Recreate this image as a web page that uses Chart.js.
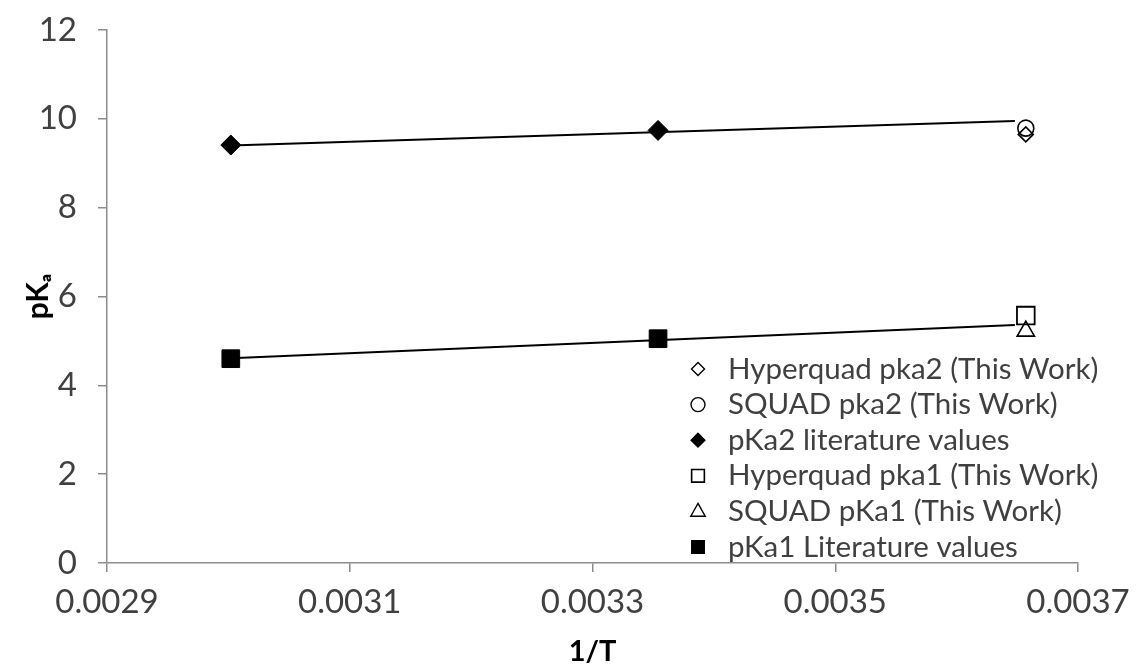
<!DOCTYPE html>
<html>
<head>
<meta charset="utf-8">
<script src="https://cdn.jsdelivr.net/npm/chart.js@4.4.1/dist/chart.umd.min.js"></script>
<style>
  html, body { margin: 0; padding: 0; background: #fff; }
  #wrap { width: 1136px; height: 670px; }
</style>
</head>
<body>
<div id="wrap"><canvas id="c" width="1136" height="670"></canvas></div>
<script>
// ---- data ----
const invT = [0.003002, 0.003354, 0.003657];          // 1/T values
const pka2Literature = [9.41, 9.74];                 // at invT[0], invT[1]
const pka1Literature = [4.60, 5.05];                 // at invT[0], invT[1]
const hyperquadPka2 = [9.65];                        // at invT[2]
const squadPka2 = [9.79];                            // at invT[2]
const hyperquadPka1 = [5.57];                        // at invT[2]
const squadPka1 = [5.22];                            // at invT[2]
const trendX = [0.003002, 0.003648];                 // trend line extent
const trendPka2 = [9.40, 9.95];
const trendPka1 = [4.61, 5.36];
const xTicks = [0.0029, 0.0031, 0.0033, 0.0035, 0.0037];
const yTicks = [0, 2, 4, 6, 8, 10, 12];
const seriesLabels = [
  'Hyperquad pka2 (This Work)',
  'SQUAD pka2 (This Work)',
  'pKa2 literature values',
  'Hyperquad pka1 (This Work)',
  'SQUAD pKa1 (This Work)',
  'pKa1 Literature values'
];

function pts(xs, ys) { return ys.map((y, i) => ({ x: xs[i], y })); }
const lastT = [invT[2]];

const FONT = 'Lato, "Open Sans", "Liberation Sans", sans-serif';
const AXIS_GRAY = '#8c8c8c';

const pointSets = [
  { label: seriesLabels[0], data: pts(lastT, hyperquadPka2), pointStyle: 'rectRot', pointRadius: 7.5, backgroundColor: 'rgba(0,0,0,0)', borderColor: '#000', pointBorderWidth: 1.6, leg: { r: 6.5 } },
  { label: seriesLabels[1], data: pts(lastT, squadPka2), pointStyle: 'circle', pointRadius: 8, backgroundColor: 'rgba(0,0,0,0)', borderColor: '#000', pointBorderWidth: 1.6, leg: { r: 7 } },
  { label: seriesLabels[2], data: pts(invT, pka2Literature), pointStyle: 'rectRot', pointRadius: 10, backgroundColor: '#000', borderColor: '#000', pointBorderWidth: 1, leg: { r: 7 } },
  { label: seriesLabels[3], data: pts(lastT, hyperquadPka1), pointStyle: 'rect', pointRadius: 12.5, backgroundColor: 'rgba(0,0,0,0)', borderColor: '#000', pointBorderWidth: 1.8, leg: { r: 9 } },
  { label: seriesLabels[4], data: pts(lastT, squadPka1), pointStyle: 'triangle', pointRadius: 10, backgroundColor: 'rgba(0,0,0,0)', borderColor: '#000', pointBorderWidth: 1.6, leg: { r: 8 } },
  { label: seriesLabels[5], data: pts(invT, pka1Literature), pointStyle: 'rect', pointRadius: 12.5, backgroundColor: '#000', borderColor: '#000', pointBorderWidth: 1, leg: { r: 9 } }
];

const datasets = pointSets.map(s => ({
  type: 'scatter',
  label: s.label,
  data: s.data,
  showLine: false,
  pointStyle: s.pointStyle,
  pointRadius: s.pointRadius,
  pointHoverRadius: s.pointRadius,
  pointBackgroundColor: s.backgroundColor,
  pointBorderColor: s.borderColor,
  pointBorderWidth: s.pointBorderWidth,
  order: 1,
  legendR: s.leg.r
}));
datasets.push({
  type: 'line', label: 'trend2', data: pts(trendX, trendPka2),
  borderColor: '#000', borderWidth: 2, pointRadius: 0, fill: false, order: 2, tension: 0
});
datasets.push({
  type: 'line', label: 'trend1', data: pts(trendX, trendPka1),
  borderColor: '#000', borderWidth: 2, pointRadius: 0, fill: false, order: 2, tension: 0
});

function drawMarker(ctx, style, x, y, r, fill, stroke, lw) {
  ctx.save();
  ctx.beginPath();
  if (style === 'circle') {
    ctx.arc(x, y, r, 0, Math.PI * 2);
  } else if (style === 'rect') {
    const s = r * Math.SQRT1_2;
    ctx.rect(x - s, y - s, 2 * s, 2 * s);
  } else if (style === 'rectRot') {
    ctx.moveTo(x, y - r); ctx.lineTo(x + r, y); ctx.lineTo(x, y + r); ctx.lineTo(x - r, y); ctx.closePath();
  } else if (style === 'triangle') {
    ctx.moveTo(x, y - r); ctx.lineTo(x + r * 0.9, y + r * 0.6); ctx.lineTo(x - r * 0.9, y + r * 0.6); ctx.closePath();
  }
  ctx.fillStyle = fill; ctx.fill();
  ctx.lineWidth = lw; ctx.strokeStyle = stroke; ctx.stroke();
  ctx.restore();
}

const customLegend = {
  id: 'customLegend',
  afterDraw(chart) {
    const ctx = chart.ctx;
    const area = chart.chartArea;
    const markerX = area.right - 380;
    const textX = area.right - 350;
    const rowH = 35.6;
    const firstY = area.bottom - 16 - rowH * 5;
    ctx.save();
    ctx.font = '29.5px ' + FONT;
    ctx.fillStyle = '#404040';
    ctx.textBaseline = 'middle';
    chart.data.datasets.filter(d => d.type === 'scatter').forEach((d, i) => {
      const y = firstY + i * rowH;
      drawMarker(ctx, d.pointStyle, markerX, y, d.legendR, d.pointBackgroundColor, d.pointBorderColor, Math.max(1.2, d.pointBorderWidth - 0.2));
      ctx.fillText(d.label, textX, y);
    });
    ctx.restore();
  }
};

new Chart(document.getElementById('c'), {
  data: { datasets },
  plugins: [customLegend],
  options: {
    responsive: false,
    animation: false,
    events: [],
    layout: { padding: { top: 30, right: 58, left: 0, bottom: 0 } },
    plugins: { legend: { display: false }, tooltip: { enabled: false } },
    scales: {
      x: {
        type: 'linear',
        min: xTicks[0], max: xTicks[xTicks.length - 1],
        afterBuildTicks: s => { s.ticks = xTicks.map(v => ({ value: v })); },
        afterFit: s => { s.height = 107; s.paddingLeft = 0; s.paddingRight = 0; },
        ticks: {
          font: { family: FONT, size: 33 }, color: '#404040', padding: 11,
          maxRotation: 0, autoSkip: false,
          callback: v => v.toFixed(4)
        },
        grid: { drawOnChartArea: false, drawTicks: true, tickLength: 9, color: AXIS_GRAY, lineWidth: 1.5 },
        border: { display: true, color: AXIS_GRAY, width: 1.5 },
        title: { display: true, text: '1/T', font: { family: FONT, size: 29, weight: 'bold' }, color: '#000', padding: { top: 0, bottom: 1 } }
      },
      y: {
        type: 'linear',
        min: 0, max: 12,
        afterBuildTicks: s => { s.ticks = yTicks.map(v => ({ value: v })); },
        afterFit: s => { s.width = 107; s.paddingTop = 0; s.paddingBottom = 0; },
        ticks: { font: { family: FONT, size: 33 }, color: '#404040', padding: 21 },
        grid: { drawOnChartArea: false, drawTicks: true, tickLength: 9, color: AXIS_GRAY, lineWidth: 1.5 },
        border: { display: true, color: AXIS_GRAY, width: 1.5 },
        title: { display: true, text: 'pKₐ', font: { family: FONT, size: 30, weight: 'bold' }, color: '#000', padding: { top: 20, bottom: 0 } }
      }
    }
  }
});
</script>
</body>
</html>
